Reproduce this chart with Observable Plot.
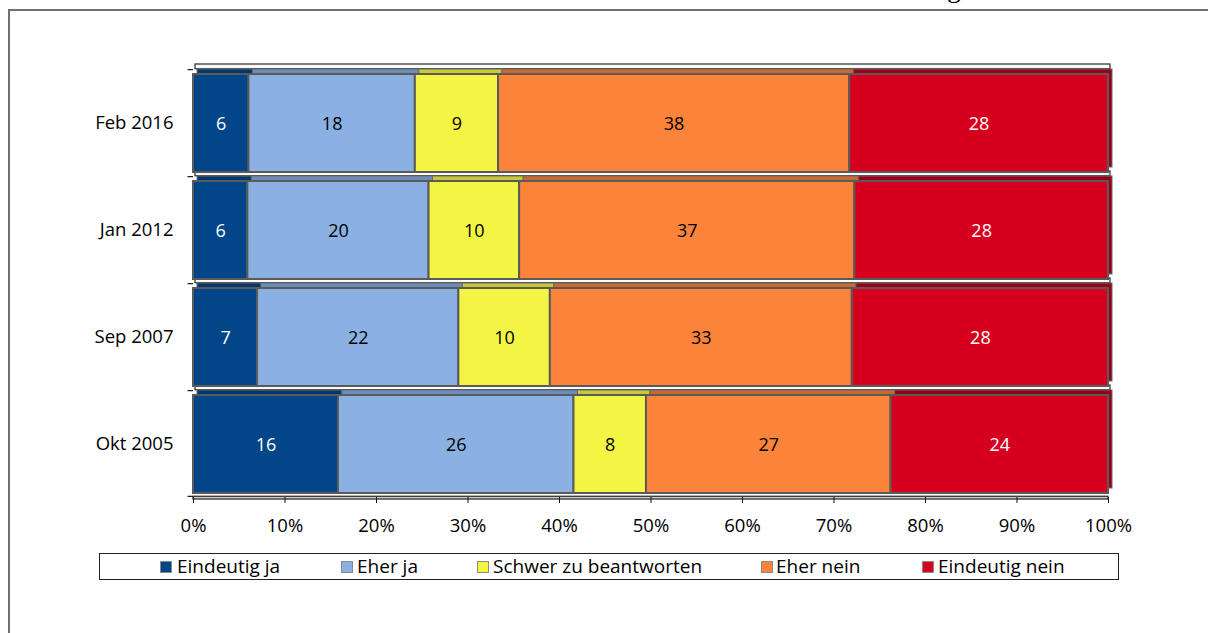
<!DOCTYPE html>
<html>
<head>
<meta charset="utf-8">
<script src="https://cdn.jsdelivr.net/npm/d3@7"></script>
<script src="https://cdn.jsdelivr.net/npm/@observablehq/plot@0.6"></script>
<style>
  html, body { margin: 0; padding: 0; background: #fff; }
  body { width: 1208px; height: 633px; position: relative; overflow: hidden; font-family: "Open Sans", sans-serif; }
  #frame { position: absolute; left: 8px; top: 9px; right: -4px; bottom: -4px; border-top: 2px solid #707070; border-left: 2px solid #707070; }
  #chart { position: absolute; left: 0; top: 0; }
  #titlefrag { position: absolute; left: 947px; top: -26px; font-family: "Liberation Serif", serif; font-size: 28px; line-height: 28px; color: #000; }
  #legend { position: absolute; left: 99px; top: 553px; width: 1020px; height: 27px; border: 1px solid #222; box-sizing: border-box; }
  .sw { position: absolute; width: 12px; height: 12px; top: 561px; box-sizing: border-box; border: 1px solid #8a8a8a; }
  .lt { position: absolute; top: 557px; font-size: 19px; line-height: 19px; color: #000; white-space: nowrap; }
</style>
</head>
<body>
<div id="frame"></div>
<div id="titlefrag">g</div>
<div id="chart"></div>
<div id="legend"></div>
<script>
// ---- data ----
const dates = ["Feb 2016", "Jan 2012", "Sep 2007", "Okt 2005"];
const answers = ["Eindeutig ja", "Eher ja", "Schwer zu beantworten", "Eher nein", "Eindeutig nein"];
const eindeutigJa   = [6, 6, 7, 16];
const eherJa        = [18, 20, 22, 26];
const schwer        = [9, 10, 10, 8];
const eherNein      = [38, 37, 33, 27];
const eindeutigNein = [28, 28, 28, 24];
const xTicks = [0, 0.1, 0.2, 0.3, 0.4, 0.5, 0.6, 0.7, 0.8, 0.9, 1];

const frontColors = ["#024689", "#8AB1E2", "#F3F444", "#FC833A", "#D6001E"];
const topColors   = ["#01376c", "#6c8dbb", "#c9c836", "#c9692d", "#9a0016"];
const labelColors = ["white", "black", "black", "black", "white"];
const legendSwatchX = [160, 341, 477, 761, 922];
const legendTextX   = [177, 357, 493, 776, 938];

const series = [eindeutigJa, eherJa, schwer, eherNein, eindeutigNein];
const rows = dates.flatMap((d, i) => answers.map((a, j) => ({date: d, answer: a, idx: j, value: series[j][i]})));

// ---- layout ----
const W = 1208, H = 545, mT = 68, mB = 48, mL = 193, mR = 100;
const bw = (H - mT - mB) / dates.length;

const stackOpts = (extra) => Plot.stackX({offset: "normalize", x: "value", y: "date", z: "answer", ...extra});

const chart = Plot.plot({
  width: W, height: H,
  marginTop: mT, marginBottom: mB, marginLeft: mL, marginRight: mR,
  style: {fontFamily: "Open Sans", fontSize: "18px", color: "#000", background: "transparent"},
  x: {domain: [0, 1], label: null},
  y: {domain: dates, padding: 0, label: null},
  color: {type: "identity"},
  marks: [
    // 3D floor strips between categories
    Plot.barX(dates, {x1: 0, x2: 1, y: d => d, insetTop: 0, insetBottom: bw - 5, dy: -5, dx: 2, fill: "#fafafa", stroke: "#2a2a2a", strokeWidth: 1.2}),
    Plot.ruleX(d3.cross(xTicks.slice(1, 10), dates), {x: d => d[0], y: d => d[1], insetBottom: bw - 5, dy: -5, dx: 2, stroke: "#222", strokeWidth: 1.2}),
    // bottom floor strip (axis line)
    Plot.barX([dates[dates.length - 1]], {x1: 0, x2: 1, y: d => d, insetTop: bw - 3, dy: 2, fill: "#cfcfcf", stroke: "#222", strokeWidth: 1.2}),
    // top / side faces
    Plot.barX(rows, stackOpts({fill: d => topColors[d.idx], insetTop: 5, insetBottom: 4, dx: 4, dy: -5, stroke: "#6a6a6a", strokeWidth: 1})),
    // front faces
    Plot.barX(rows, stackOpts({fill: d => frontColors[d.idx], insetTop: 5, insetBottom: 4, stroke: "#5a5a5a", strokeWidth: 2})),
    // value labels
    Plot.text(rows, stackOpts({text: d => String(d.value), fill: d => labelColors[d.idx], fontSize: 18, dy: 1})),
    // category boundary ticks on the left
    Plot.barX(dates, {x1: -0.006, x2: 0, y: d => d, insetBottom: bw - 1.5, fill: "#222"}),
    Plot.barX([dates[dates.length - 1]], {x1: -0.006, x2: 0, y: d => d, insetTop: bw - 1.5, fill: "#222"}),
    // axes
    Plot.axisY({tickSize: 0, tickPadding: 20, fontSize: 18.5, label: null}),
    Plot.axisX({ticks: xTicks, tickFormat: d3.format(".0%"), tickSize: 6, tickPadding: 15, fontSize: 18.5, stroke: "#111", label: null})
  ]
});
document.getElementById("chart").appendChild(chart);

// ---- legend ----
answers.forEach((a, j) => {
  const sw = document.createElement("div");
  sw.className = "sw";
  sw.style.left = legendSwatchX[j] + "px";
  sw.style.background = frontColors[j];
  document.body.appendChild(sw);
  const t = document.createElement("div");
  t.className = "lt";
  t.style.left = legendTextX[j] + "px";
  t.textContent = a;
  document.body.appendChild(t);
});
</script>
</body>
</html>
